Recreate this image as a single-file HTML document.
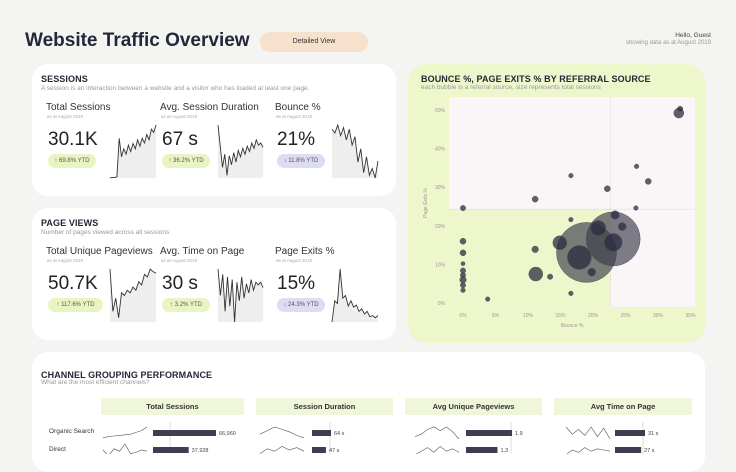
<!DOCTYPE html>
<html><head><meta charset="utf-8"><style>
*{margin:0;padding:0;box-sizing:border-box}
body{width:736px;height:454px;overflow:hidden;background:#f4f4f2;font-family:"Liberation Sans","DejaVu Sans",sans-serif;color:#222;position:relative}
.a{position:absolute}
.card{position:absolute;background:#fff;border-radius:16px}
.ttl{position:absolute;font-weight:bold;font-size:9px;color:#222836;letter-spacing:.1px}
.sub{position:absolute;font-size:6.5px;color:#999}
.lbl{position:absolute;font-size:10px;color:#333}
.asat{position:absolute;font-size:4.5px;color:#aaa}
.val{position:absolute;font-size:19px;color:#222}
.pill{position:absolute;height:14px;border-radius:7px;font-size:6px;color:#555;text-align:center;line-height:14px}
.g{background:#e8f5c2}.p{background:#dcdcf2}
.hdr{position:absolute;top:398px;height:17px;background:#eff6d9;font-size:7.5px;font-weight:bold;text-align:center;line-height:17px;color:#333}
.rl{position:absolute;font-size:6.5px;color:#333}
</style></head><body>
<div class="a" style="left:25px;top:30px;font-size:19px;font-weight:bold;color:#232838">Website Traffic Overview</div>
<div class="a" style="left:260px;top:32px;width:108px;height:20px;border-radius:10px;background:#f7e0cc;font-size:7px;text-align:center;line-height:20px;color:#333">Detailed View</div>
<div class="a" style="right:25px;top:32px;font-size:6.5px;color:#444;text-align:right">Hello, Guest</div>
<div class="a" style="right:25px;top:40px;font-size:6px;color:#999;text-align:right">showing data as at August 2019</div>

<div class="card" style="left:32px;top:64px;width:364px;height:132px"></div>
<div class="card" style="left:32px;top:208px;width:364px;height:132px"></div>
<div class="card" style="left:408px;top:64px;width:297px;height:279px;background:#eef6cc;border-radius:18px"></div>
<div class="card" style="left:32px;top:352px;width:673px;height:120px"></div>

<div id="kpis"></div>

<div class="ttl" style="left:421px;top:74px">BOUNCE %, PAGE EXITS % BY REFERRAL SOURCE</div>
<div class="sub" style="left:421px;top:84px">each bubble is a referral source, size represents total sessions</div>
<svg class="a" style="left:0;top:0" width="736" height="454" id="sc"></svg>

<div class="ttl" style="left:41px;top:370px">CHANNEL GROUPING PERFORMANCE</div>
<div class="sub" style="left:41px;top:379px">What are the most efficient channels?</div>
<div class="hdr" style="left:101px;width:143px">Total Sessions</div>
<div class="hdr" style="left:256px;width:137px">Session Duration</div>
<div class="hdr" style="left:405px;width:137px">Avg Unique Pageviews</div>
<div class="hdr" style="left:554px;width:138px">Avg Time on Page</div>
<div class="rl" style="left:49px;top:428px">Organic Search</div>
<div class="rl" style="left:49px;top:446px">Direct</div>

<script>
// ---- Scatter data ----
const bounce=[33.4,33.2,26.7,28.5,16.6,22.2,11.1,0,26.6,23.4,16.6,20.8,24.5,23.1,23.1,19,17.9,14.9,11.1,11.2,13.4,19.8,16.6,3.8,0,0,0,0,0,0,0,0];
const exits=[50.3,49.2,35.4,31.5,33,29.6,26.9,24.6,24.6,22.8,21.6,19.4,19.8,16.6,15.7,13.1,11.8,15.6,13.9,7.5,6.8,8,2.5,1,16,13,10.2,8.4,7.2,6,4.6,3.3];
const sessions=[324,1111,235,400,235,400,400,324,235,822,235,2635,711,32400,3600,40000,6400,2178,484,2178,324,711,235,235,400,400,178,324,324,484,324,235];
const xTicks=[0,5,10,15,20,25,30,35];
const yTicks=[0,10,20,30,40,50];
const refX=22.7, refY=24.3;
const NS="http://www.w3.org/2000/svg";
const sc=document.getElementById('sc');
const X=v=>463+v*6.5, Y=v=>303-v*3.86;
function el(t,a,p){const e=document.createElementNS(NS,t);for(const k in a)e.setAttribute(k,a[k]);(p||sc).appendChild(e);return e;}
let r1=el('rect',{x:449,y:97,width:246,height:Y(refY)-97,fill:'#faf6f8'});


let r2=el('rect',{x:X(refX),y:Y(refY),width:695-X(refX),height:307-Y(refY),fill:'#faf6f8'});


let l1=el('line',{x1:X(refX),x2:X(refX),y1:97,y2:307,stroke:'#ddd','stroke-width':.6});


let l2=el('line',{x1:449,x2:695,y1:Y(refY),y2:Y(refY),stroke:'#ddd','stroke-width':.6});


xTicks.forEach(t=>{const e=el('text',{x:X(t),y:317,'font-size':5,fill:'#999','text-anchor':'middle'});e.textContent=t+'%';

});
yTicks.forEach(t=>{const e=el('text',{x:445,y:Y(t)+2,'font-size':5,fill:'#999','text-anchor':'end'});e.textContent=t+'%';

});
let xt=el('text',{x:572,y:327,'font-size':5,fill:'#999','text-anchor':'middle'});xt.textContent='Bounce %';


let yt=el('text',{x:0,y:0,'font-size':5,fill:'#999','text-anchor':'middle',transform:'translate(427,203) rotate(-90)'});yt.textContent='Page Exits %';


bounce.map((b,i)=>i).sort((a,b)=>sessions[b]-sessions[a]).forEach(i=>{
 const big=sessions[i]>20000;
 const c=el('circle',{cx:X(bounce[i]),cy:Y(exits[i]),r:Math.sqrt(sessions[i])*0.15,fill:big?'#3a3a48':'#2b2b40','fill-opacity':big?.65:.75,stroke:'#555','stroke-width':.5});
 
 
});

// ---- KPI sparklines ----
const sTotalSessions=[0,1,1,2,75,40,55,45,62,50,65,55,72,60,75,66,82,72,92,86,100];
const sSessionDuration=[100,60,20,45,5,42,25,48,30,52,40,56,45,60,50,66,56,72,62,66,58];
const sBounce=[92,85,100,80,95,72,92,62,78,30,55,10,40,5,18,0,32];
const sUniquePageviews=[100,20,45,8,55,50,60,55,66,60,76,70,90,85,100,95,92];
const sTimeOnPage=[100,50,90,20,85,30,80,0,75,40,85,45,72,55,80,60,75,70,75,65];
const sPageExits=[0,40,35,100,45,50,30,40,28,32,20,25,15,20,10,12,8,12];
const kpiLabels=['Total Sessions','Avg. Session Duration','Bounce %','Total Unique Pageviews','Avg. Time on Page','Page Exits %'];
const kpiValues=['30.1K','67 s','21%','50.7K','30 s','15%'];
const kpiDeltas=['↑ 69.8% YTD','↑ 36.2% YTD','↓ 11.8% YTD','↑ 117.6% YTD','↑ 3.2% YTD','↓ 24.3% YTD'];
const sparks=[sTotalSessions,sSessionDuration,sBounce,sUniquePageviews,sTimeOnPage,sPageExits];
const k=document.getElementById('kpis');
function div(cls,style,txt,name,inter){const d=document.createElement('div');d.className=cls;d.style.cssText=style;d.textContent=txt;


k.appendChild(d);return d;}
div('ttl','left:41px;top:74px','SESSIONS','sessions-title','false');
div('sub','left:41px;top:85px','A session is an interaction between a website and a visitor who has loaded at least one page.','sessions-subtitle','false');
div('ttl','left:41px;top:218px','PAGE VIEWS','page-views-title','false');
div('sub','left:41px;top:229px','Number of pages viewed across all sessions','page-views-subtitle','false');
const colX=[46,160,275], spX=[110,218,332];
for(let i=0;i<6;i++){
 const c=i%3, oy=i<3?0:144, x=colX[c];
 div('lbl',`left:${x}px;top:${102+oy}px`,kpiLabels[i],'kpi-label','false');
 div('asat',`left:${x+1}px;top:${114+oy}px`,'as at August 2019','kpi-date','false');
 div('val',`left:${x+2}px;top:${129+oy}px`,kpiValues[i],'kpi-value','false');
 div('pill '+(c==2?'p':'g'),`left:${x+2}px;top:${154+oy}px;width:${i==3?55:48}px`,kpiDeltas[i],'kpi-delta-pill','false');
 const d=sparks[i], x0=spX[c], w=c==1?45:46, y0=125+oy, h=53;
 const px=j=>x0+j*w/(d.length-1), py=v=>y0+h-v/100*h;
 let pts=d.map((v,j)=>px(j)+','+py(v)).join(' ');
 const a=el('polygon',{points:x0+','+(y0+h)+' '+pts+' '+(x0+w)+','+(y0+h),fill:'#eeeeee'});
 
 
 const l=el('polyline',{points:pts,fill:'none',stroke:'#333','stroke-width':.9});
 
 
}

// ---- Channel grouping ----
const channels=['Organic Search','Direct'];
const totalSessions=[66960,37928];
const sessionDur=[64,47];
const uniquePv=[1.9,1.3];
const timeOnPage=[31,27];
const chTrend=[[[10,20,25,30,35,40,55,70,100],[50,0,60,40,100,20,30,50,40]],[[40,70,100,80,60,30,10],[20,60,40,80,50,70,40]],[[20,40,80,100,70,100,60,0],[10,40,70,30,80,40,60,30]],[[100,40,80,30,100,20,90,0],[10,50,30,70,40,60,50,40]]];
const groups=[{vals:totalSessions,max:66960,bx:153,bw:63,sx:103,ref:170,fmt:v=>v.toLocaleString('en-US')},
 {vals:sessionDur,max:64,bx:312,bw:19,sx:260,ref:330,fmt:v=>v+' s'},
 {vals:uniquePv,max:1.9,bx:466,bw:46,sx:415,ref:511,fmt:v=>v.toFixed(1)},
 {vals:timeOnPage,max:31,bx:615,bw:30,sx:566,ref:643,fmt:v=>v+' s'}];
const rowY=[433,450];
groups.forEach((g,gi)=>{
 el('line',{x1:g.ref,x2:g.ref,y1:422,y2:454,stroke:'#bbb','stroke-width':.5});
 g.vals.forEach((v,ri)=>{
  const w=v/g.max*g.bw;
  const b=el('rect',{x:g.bx,y:rowY[ri]-3,width:w,height:6,fill:'#3e3e50'});
  
  
  const t=el('text',{x:g.bx+w+3,y:rowY[ri]+2,'font-size':5.5,fill:'#444'});t.textContent=g.fmt(v);
  
  
  const tr=chTrend[gi][ri];
  const pts=tr.map((q,j)=>(g.sx+j*44/(tr.length-1))+','+(rowY[ri]+6-q/100*12)).join(' ');
  const s=el('polyline',{points:pts,fill:'none',stroke:'#555','stroke-width':.6});
  
  
 });
});
</script>
</body></html>
